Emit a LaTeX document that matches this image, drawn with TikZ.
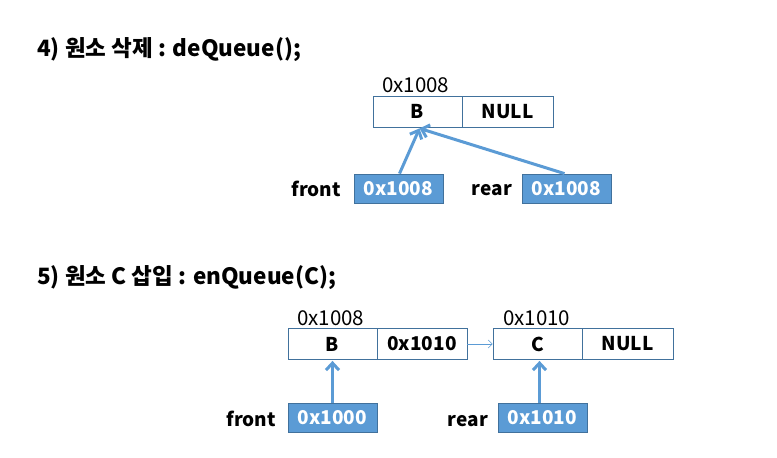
\documentclass[tikz,border=0pt]{standalone}
\usepackage{fontspec}
\setmainfont{Noto Sans CJK KR}
\usetikzlibrary{arrows.meta}
\definecolor{cellline}{HTML}{41719C}
\definecolor{ptrfill}{HTML}{5B9BD5}
\tikzset{
  x=1pt, y=-1pt,
  cell/.style={draw=cellline, line width=0.8pt, fill=white, minimum height=31pt, inner sep=0pt, font=\fontsize{19}{19}\selectfont\bfseries},
  ptrbox/.style={draw=cellline, line width=0.8pt, fill=ptrfill, text=white, minimum width=89pt, minimum height=29pt, inner sep=0pt, font=\fontsize{19}{19}\selectfont\bfseries},
  varlabel/.style={anchor=east, inner sep=0pt, font=\fontsize{19}{19}\selectfont\bfseries},
  addr/.style={anchor=base west, inner sep=0pt, font=\fontsize{20.5}{20.5}\selectfont},
  title/.style={anchor=west, inner sep=0pt, font=\fontsize{22.5}{22.5}\selectfont\bfseries},
  ptr/.style={draw=ptrfill, line width=3pt, -{Straight Barb[length=7pt,width=13pt,line width=3pt]}},
  link/.style={draw=ptrfill, line width=0.6pt, -{Straight Barb[length=4pt,width=8pt]}}
}
\begin{document}
\begin{tikzpicture}
\useasboundingbox (0,0) rectangle (777,458);

% ---- 4) deQueue ----
\node[title] (t4) at (37,50) {4) 원소 삭제 : deQueue();};

\node[cell, minimum width=89pt] (b1) at (417.5,111.5) {B};
\node[cell, minimum width=91pt] (n1) at (507.5,111.5) {NULL};
\node[addr] (a1) at (382,92.5) {0x1008};

\node[ptrbox] (f1) at (398.5,188.5) {0x1008};
\node[varlabel] (fl1) at (341,189) {front};
\node[ptrbox] (r1) at (566.5,188.5) {0x1008};
\node[varlabel] (rl1) at (512,190) {rear};

\draw[ptr] (f1.north) ++(1,0) -- ([xshift=2pt,yshift=-1pt]b1.south);
\draw[ptr] ([xshift=-2pt]r1.north) -- ([xshift=2pt,yshift=-1pt]b1.south);

% ---- 5) enQueue(C) ----
\node[title] (t5) at (37,278) {5) 원소 C 삽입 : enQueue(C);};

\node[cell, minimum width=89pt] (b2) at (332.5,344) {B};
\node[cell, minimum width=90pt] (p2) at (422,344) {0x1010};
\node[addr] (a2) at (297,325.5) {0x1008};

\node[cell, minimum width=89pt] (c3) at (537.5,344) {C};
\node[cell, minimum width=91pt] (n3) at (627.5,344) {NULL};
\node[addr] (a3) at (503,325.5) {0x1010};

\draw[link] (p2.east) -- (c3.west);

\node[ptrbox] (f2) at (332.5,418) {0x1000};
\node[varlabel] (fl2) at (276,419) {front};
\node[ptrbox] (r2) at (542.5,418) {0x1010};
\node[varlabel] (rl2) at (488,421) {rear};

\draw[ptr] (f2.north) -- ([yshift=-1pt]b2.south);
\draw[ptr] ([xshift=-3pt]r2.north) -- ([xshift=2pt,yshift=-1pt]c3.south);
\end{tikzpicture}
\end{document}
